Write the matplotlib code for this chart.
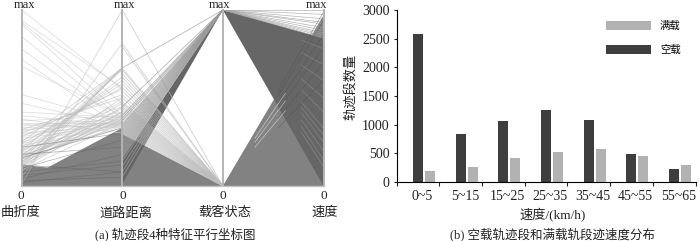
import matplotlib
matplotlib.use("Agg")
import matplotlib.pyplot as plt

plt.rcParams['font.family'] = ['Liberation Serif', 'Noto Sans CJK SC', 'DejaVu Sans']

W, H = 700, 241

# (a) parallel coordinates
axis_names = ['曲折度', '道路距离', '载客状态', '速度']

# sparse lines, curvature -> road distance
curv_faint = [1.0, 0.94, 0.93, 0.92, 0.85, 0.78, 0.72, 0.68, 0.52, 0.47, 0.42, 0.40, 0.38, 0.37,
              0.36, 0.35, 0.34, 0.33, 0.32, 0.31, 0.30, 0.29, 0.28, 0.27, 0.26, 0.25, 0.24, 0.23,
              0.22, 0.21, 0.20, 0.19, 0.18, 0.17, 0.16, 0.15]
road_faint = [0.55, 0.56, 0.47, 0.40, 0.38, 0.36, 0.33, 0.40, 0.36, 0.34, 0.39, 0.34, 0.30, 0.40,
              0.36, 0.33, 0.38, 0.36, 0.35, 0.42, 0.34, 0.40, 0.37, 0.35, 0.45, 0.38, 0.36, 0.34,
              0.40, 0.36, 0.38, 0.35, 0.33, 0.37, 0.34, 0.36]
curv_rise = [0.01, 0.05, 0.08, 0.10, 0.12, 0.13, 0.15, 0.17, 0.19, 0.20, 0.22, 0.24, 0.25, 0.28,
             0.30, 0.32, 0.12, 0.14, 0.16, 0.18, 0.10, 0.13, 0.11, 0.15, 0.17, 0.14, 0.09, 0.12]
road_rise = [1.00, 0.81, 0.67, 0.67, 0.67, 0.66, 0.67, 0.62, 0.60, 0.67, 0.58, 0.56, 0.67, 0.55,
             0.52, 0.50, 0.50, 0.47, 0.44, 0.48, 0.42, 0.40, 0.45, 0.42, 0.39, 0.37, 0.36, 0.38]
# dark-ish streaks inside the solid part
curv_streak = [0.04, 0.10, 0.06, 0.02, 0.08, 0.03, 0.18, 0.22, 0.12, 0.16]
road_streak = [0.18, 0.26, 0.12, 0.08, 0.14, 0.05, 0.22, 0.30, 0.08, 0.33]

seg1_x = [0, 0, 0.26, 1, 1]
seg1_y = [0, 0.12, 0.105, 0.33, 0]

# road distance fans into the two load states
road_to_full = [1.00, 0.81, 0.79, 0.67, 0.66, 0.64, 0.62, 0.60, 0.58, 0.56, 0.54, 0.52, 0.50, 0.48,
                0.47, 0.46, 0.45, 0.44, 0.43, 0.42, 0.41, 0.40, 0.39, 0.38, 0.37, 0.36, 0.35, 0.34,
                0.33, 0.32, 0.31, 0.30]
road_to_empty = [0.67, 0.45, 0.40, 0.385, 0.37, 0.35, 0.34, 0.33, 0.32, 0.31, 0.30, 0.29, 0.28, 0.27,
                 0.26, 0.25, 0.24, 0.23, 0.22, 0.21, 0.20, 0.19, 0.18, 0.17, 0.16]
road_band_full = [0, 0.295]
road_band_empty = [0.01, 0.15]
road_stripes_empty = [0.05, 0.08, 0.11, 0.14]

# load state fans into speed
speed_top_empty = [1.0, 0.975, 0.95, 0.93, 0.92, 0.90, 0.885, 0.87, 0.86, 0.85, 0.84]
speed_band_empty = [0, 0.84]
speed_band_full = [0, 0.97]
speed_streak_full = [0.69, 0.78, 0.85]
speed_rise_full = [0.99, 0.94, 0.86, 0.79, 0.70, 0.60]
speed_gaps = [0.78, 0.69, 0.60, 0.50, 0.42, 0.33, 0.29, 0.25, 0.20, 0.15, 0.11]

# (b) bars
speed_bins = ['0~5', '5~15', '15~25', '25~35', '35~45', '45~55', '55~65']
empty_counts = [2590, 840, 1060, 1260, 1075, 490, 220]
full_counts = [190, 270, 410, 520, 580, 460, 300]

fig = plt.figure(figsize=(W / 100, H / 100), dpi=100)


def axes_px(x0, x1, y_top, y_bot):
    return fig.add_axes([x0 / W, 1 - y_bot / H, (x1 - x0) / W, (y_bot - y_top) / H])


ax = axes_px(21.5, 323.5, 10, 186)
ax.set_xlim(0, 3)
ax.set_ylim(0, 1)
ax.axis('off')

# left segment
for c, r in zip(curv_faint, road_faint):
    ax.plot([0, 1], [c, r], color='#d4d4d4', lw=0.6, alpha=0.75)
for c, r in zip(curv_rise, road_rise):
    ax.plot([0, 1], [c, r], color='#bcbcbc', lw=0.6, alpha=0.6)
ax.fill(seg1_x, seg1_y, color='#828282', lw=0)
for c, r in zip(curv_streak, road_streak):
    ax.plot([0, 1], [c, r], color='#5e5e5e', lw=0.5, alpha=0.5)

# middle segment
for r in road_to_full:
    ax.plot([1, 2], [r, 0], color='#bcbcbc', lw=0.7, alpha=0.6)
for r in road_to_empty:
    ax.plot([1, 2], [r, 1], color='#999999', lw=0.6, alpha=0.7)
ax.fill([1, 1, 2], [road_band_full[0], road_band_full[1], 0], color='#828282', lw=0)
ax.fill([1, 1, 2], [road_band_empty[0], road_band_empty[1], 1], color='#666666', lw=0)
for r in road_stripes_empty:
    ax.plot([1, 1.3], [r, r + (1 - r) * 0.3], color='#9a9a9a', lw=0.5)

# right segment
ax.fill([2, 3, 3], [0, speed_band_full[1], speed_band_full[0]], color='#828282', lw=0)
for s in speed_streak_full:
    ax.plot([2.32, 2.62], [s * 0.32, s * 0.62], color='#bdbdbd', lw=0.6)
for s in speed_top_empty:
    ax.plot([2, 3], [1, s], color='#a2a2a2', lw=0.5, alpha=0.8)
ax.fill([2, 3, 3], [1, speed_band_empty[1], speed_band_empty[0]], color='#666666', lw=0)
for s in speed_gaps:
    ax.plot([2.78, 3], [1 + (s - 1) * 0.78, s], color='#9a9a9a', lw=0.5, alpha=0.6)
for s in speed_rise_full:
    ax.plot([2.55, 3], [s * 0.55, s], color='#505050', lw=0.5, alpha=0.5)

# the four axes and the base line
for i, name in enumerate(axis_names):
    ax.plot([i, i], [0, 1], color='#b4b4b4', lw=1.4, clip_on=False)
ax.plot([0, 3], [0, 0], color='#c4c4c4', lw=1.0, clip_on=False)

label_px = [20.7, 126, 225, 325]
max_px = [24, 124, 219, 316]
zero_px = [20.5, 123, 223, 324]
for i, name in enumerate(axis_names):
    fig.text(max_px[i] / W, 1 - 5 / H, 'max', ha='center', va='center', fontsize=9, color='#222222')
    fig.text(zero_px[i] / W, 1 - 196 / H, '0', ha='center', va='center', fontsize=9.5, color='#222222')
    fig.text(label_px[i] / W, 1 - 213 / H, name, ha='center', va='center', fontsize=9.5, color='#222222')
fig.text(175 / W, 1 - 234 / H, '(a) 轨迹段4种特征平行坐标图', ha='center', va='center', fontsize=9, color='#222222')

# bar chart
bx = axes_px(396.5, 695.5, 10, 182)
pos = list(range(len(speed_bins)))
bx.bar(pos, empty_counts, width=0.235, color='#3e3e3e', label='空载')
bx.bar([p + 0.28 for p in pos], full_counts, width=0.235, color='#b2b2b2', label='满载')
bx.set_xlim(-0.5, 6.5)
bx.set_ylim(0, 3000)
bx.set_yticks(range(0, 3001, 500))
bx.set_xticks([p + 0.1 for p in pos])
bx.set_xticklabels(speed_bins)
bx.set_xticks([p - 0.5 for p in pos] + [6.5], minor=True)
bx.tick_params(axis='x', which='major', length=0, pad=6, labelsize=10, colors='#222222')
bx.tick_params(axis='x', which='minor', length=3, width=0.8, direction='out', color='#222222')
bx.tick_params(axis='y', length=2, width=0.8, pad=3, labelsize=10, colors='#222222')
bx.spines['top'].set_visible(False)
bx.spines['right'].set_visible(False)
bx.set_facecolor('none')

handles, labels = bx.get_legend_handles_labels()
bx.legend(handles[::-1], labels[::-1], loc='upper left', bbox_to_anchor=(0.70, 0.935), frameon=False,
          fontsize=7.5, handlelength=4.3, handleheight=0.9, labelspacing=1.3, handletextpad=0.9,
          borderpad=0, borderaxespad=0)

fig.text(351 / W, 1 - 87 / H, '轨迹段数量', rotation=90, ha='center', va='center', fontsize=9.5, color='#222222')
fig.text(553 / W, 1 - 215 / H, '速度/(km/h)', ha='center', va='center', fontsize=9.5, color='#222222')
fig.text(553 / W, 1 - 234 / H, '(b) 空载轨迹段和满载轨段迹速度分布', ha='center', va='center', fontsize=9, color='#222222')

fig.savefig('out.png', dpi=100)
